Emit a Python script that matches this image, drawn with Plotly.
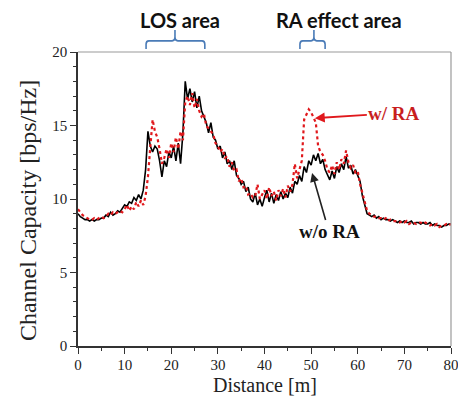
import plotly.graph_objects as go

# ---------------- data ----------------
STEP = 0.5
wo_ra = [
    9.0, 8.8, 8.7, 8.6, 8.6, 8.5, 8.6, 8.5, 8.6, 8.6,      # 0 - 4.5
    8.7, 8.7, 8.9, 8.8, 9.1, 8.9, 9.0, 9.2, 9.1, 9.4,      # 5 - 9.5
    9.6, 9.5, 9.8, 9.7, 10.1, 9.9, 10.3, 10.0, 10.6, 12.0,  # 10 - 14.5
    14.6, 13.6, 13.2, 13.6, 13.4, 12.6, 11.5, 12.6, 12.2, 13.2,  # 15 - 19.5
    12.8, 13.6, 12.6, 13.8, 12.4, 14.5, 18.0, 16.8, 17.5, 16.6,  # 20 - 24.5
    17.3, 16.2, 17.0, 16.0, 15.6, 15.2, 14.5, 15.2, 14.2, 14.0,  # 25 - 29.5
    13.4, 13.6, 12.8, 13.2, 12.4, 12.6, 12.0, 12.6, 11.6, 11.4,  # 30 - 34.5
    11.0, 11.2, 10.5, 10.8, 10.0, 9.8, 10.4, 9.6, 10.0, 9.5,     # 35 - 39.5
    10.1, 10.6, 9.8, 10.4, 9.7, 10.3, 9.9, 10.5, 10.0, 10.4,     # 40 - 44.5
    10.1, 10.8, 10.4, 11.2, 11.0, 11.6, 11.2, 12.2, 11.8, 12.6,  # 45 - 49.5
    12.3, 13.0, 12.6, 13.1, 12.4, 12.7, 12.0, 11.6, 11.3, 11.9,  # 50 - 54.5
    11.4, 12.2, 11.8, 12.4, 12.0, 12.9, 12.1, 12.3, 11.7, 12.0,  # 55 - 59.5
    11.6, 11.2, 10.2, 9.6, 9.0, 8.9, 8.8, 8.9, 8.7, 8.8,         # 60 - 64.5
    8.6, 8.7, 8.6, 8.6, 8.5, 8.6, 8.5, 8.4, 8.5, 8.4,            # 65 - 69.5
    8.5, 8.4, 8.4, 8.5, 8.3, 8.4, 8.4, 8.3, 8.4, 8.3,            # 70 - 74.5
    8.3, 8.4, 8.2, 8.3, 8.2, 8.2, 8.1, 8.2, 8.2, 8.3,            # 75 - 79.5
    8.3,                                                         # 80
]
w_ra = [
    9.3, 9.1, 8.9, 8.8, 8.7, 8.6, 8.6, 8.7, 8.6, 8.7,
    8.8, 8.7, 8.8, 9.0, 8.9, 9.1, 9.0, 9.1, 9.2, 9.1,
    9.3, 9.6, 9.2, 9.5, 9.3, 9.8, 9.5, 9.9, 9.6, 10.2,
    11.5, 13.5, 15.4, 14.6, 14.2, 13.4, 12.4, 12.8, 13.4, 12.8,
    13.8, 13.2, 14.2, 13.4, 14.6, 14.0, 16.6, 17.0, 16.4, 17.2,
    16.2, 16.8, 16.0, 15.6, 15.8, 15.0, 14.8, 14.6, 14.4, 13.8,
    13.6, 13.2, 13.4, 12.8, 12.9, 12.2, 12.5, 11.9, 12.0, 11.2,
    11.4, 10.8, 10.9, 10.3, 10.4, 10.1, 10.2, 11.0, 10.0, 10.3,
    10.6, 10.0, 10.8, 10.2, 10.5, 9.9, 10.6, 10.2, 10.7, 10.1,
    10.9, 10.5, 11.0, 12.4, 11.4, 12.0, 12.6, 15.4, 15.8, 16.1,
    15.9, 15.6, 15.2, 13.6, 13.2, 13.0, 12.6, 12.0, 11.8, 12.3,
    11.7, 12.5, 12.0, 12.7, 12.4, 13.3, 12.5, 12.1, 12.3, 11.8,
    11.9, 11.0, 10.4, 9.8, 9.2, 9.0, 8.9, 8.8, 8.8, 8.7,
    8.7, 8.6, 8.7, 8.5, 8.6, 8.5, 8.5, 8.5, 8.4, 8.5,
    8.4, 8.5, 8.3, 8.4, 8.4, 8.3, 8.4, 8.4, 8.3, 8.4,
    8.3, 8.2, 8.3, 8.2, 8.3, 8.1, 8.2, 8.2, 8.3, 8.2,
    8.3,
]
distance = [i * STEP for i in range(len(wo_ra))]

los_bracket = [14.6, 20.8, 27.2]     # start, tip, end (m)
ra_bracket = [47.6, 50.6, 53.0]
x_ticks = [0, 10, 20, 30, 40, 50, 60, 70, 80]
y_ticks = [0, 5, 10, 15, 20]

RED = "#e0181c"
SERIF = "Liberation Serif, Times New Roman, serif"

fig = go.Figure()
fig.add_trace(go.Scatter(x=distance, y=wo_ra, mode="lines", name="w/o RA",
                         line=dict(color="black", width=1.6)))
fig.add_trace(go.Scatter(x=distance, y=w_ra, mode="lines", name="w/ RA",
                         line=dict(color=RED, width=2.2, dash="dot")))

axis_common = dict(showgrid=False, zeroline=False, showline=True,
                   linecolor="#333", linewidth=1.5, ticks="outside",
                   ticklen=6, tickwidth=1, tickcolor="#333",
                   tickfont=dict(family=SERIF, size=15, color="#222"))
fig.update_xaxes(range=[0, 80], tickvals=x_ticks, ticklabelstandoff=-2, **axis_common,
                 minor=dict(ticks="outside", dtick=5, ticklen=3, tickcolor="#333"))
fig.update_yaxes(range=[0, 20], tickvals=y_ticks, **axis_common,
                 minor=dict(ticks="outside", dtick=1, ticklen=3, tickcolor="#333"))


def brace(b):
    x0, xm, x1 = b
    r = 0.6
    yb, yh, yt = 1.010, 1.038, 1.075
    yc = yh + 0.012
    return (f"M {x0},{yb} L {x0},{yh-0.012} Q {x0},{yh} {x0+r},{yh} "
            f"L {xm-r},{yh} Q {xm},{yh} {xm},{yc} L {xm},{yt} "
            f"M {xm},{yc} Q {xm},{yh} {xm+r},{yh} L {x1-r},{yh} "
            f"Q {x1},{yh} {x1},{yh-0.012} L {x1},{yb}")


shapes = [
    # grey top and right frame
    dict(type="line", xref="paper", yref="paper", x0=0, x1=1, y0=1, y1=1,
         line=dict(color="#9a9a9a", width=1.2)),
    dict(type="line", xref="paper", yref="paper", x0=1, x1=1, y0=0, y1=1,
         line=dict(color="#9a9a9a", width=1.2)),
]
for b in (los_bracket, ra_bracket):
    shapes.append(dict(type="path", xref="x", yref="paper", path=brace(b),
                       line=dict(color="#4a7bb7", width=1.6)))

annotations = [
    dict(text="<b>LOS area</b>", x=21.9, y=1.109, xref="x", yref="paper",
         xanchor="center", yanchor="middle",
         showarrow=False, font=dict(family="Lato, sans-serif", size=20, color="#111")),
    dict(text="<b>RA effect area</b>", x=56.0, y=1.109, xref="x", yref="paper",
         xanchor="center", yanchor="middle",
         showarrow=False, font=dict(family="Lato, sans-serif", size=20, color="#111")),
    dict(text="<b>w/ RA</b>", x=50.8, y=15.5, xref="x", yref="y",
         ax=79, ay=-5, showarrow=True, arrowhead=2, arrowsize=1.1, arrowwidth=1.8,
         arrowcolor=RED, standoff=0,
         font=dict(family=SERIF, size=19, color="#c81e1e")),
    dict(text="<b>w/o RA</b>", x=50.2, y=11.77, xref="x", yref="y",
         ax=17, ay=59, showarrow=True, arrowhead=2, arrowsize=1.1, arrowwidth=1.6,
         arrowcolor="#222", standoff=0,
         font=dict(family=SERIF, size=19, color="#111")),
    dict(text="Channel Capacity [bps/Hz]", x=-0.134, y=0.459, xref="paper", yref="paper",
         xanchor="center", yanchor="middle", textangle=-90, showarrow=False,
         font=dict(family=SERIF, size=24, color="#222")),
    dict(text="Distance [m]", x=0.5, y=-0.134, xref="paper", yref="paper",
         xanchor="center", yanchor="middle", showarrow=False,
         font=dict(family=SERIF, size=20, color="#222")),
]

fig.update_layout(
    width=468, height=396,
    margin=dict(l=78, r=9, t=52, b=50),
    paper_bgcolor="white", plot_bgcolor="white",
    showlegend=False,
    shapes=shapes, annotations=annotations,
)

# remove the default page margin so the figure fills the window exactly
fig.write_html(
    "out.html",
    config={"displayModeBar": False},
    post_script=("document.body.style.margin='0';"
                 "document.body.style.overflow='hidden';"
                 "document.documentElement.style.overflow='hidden';"),
)
